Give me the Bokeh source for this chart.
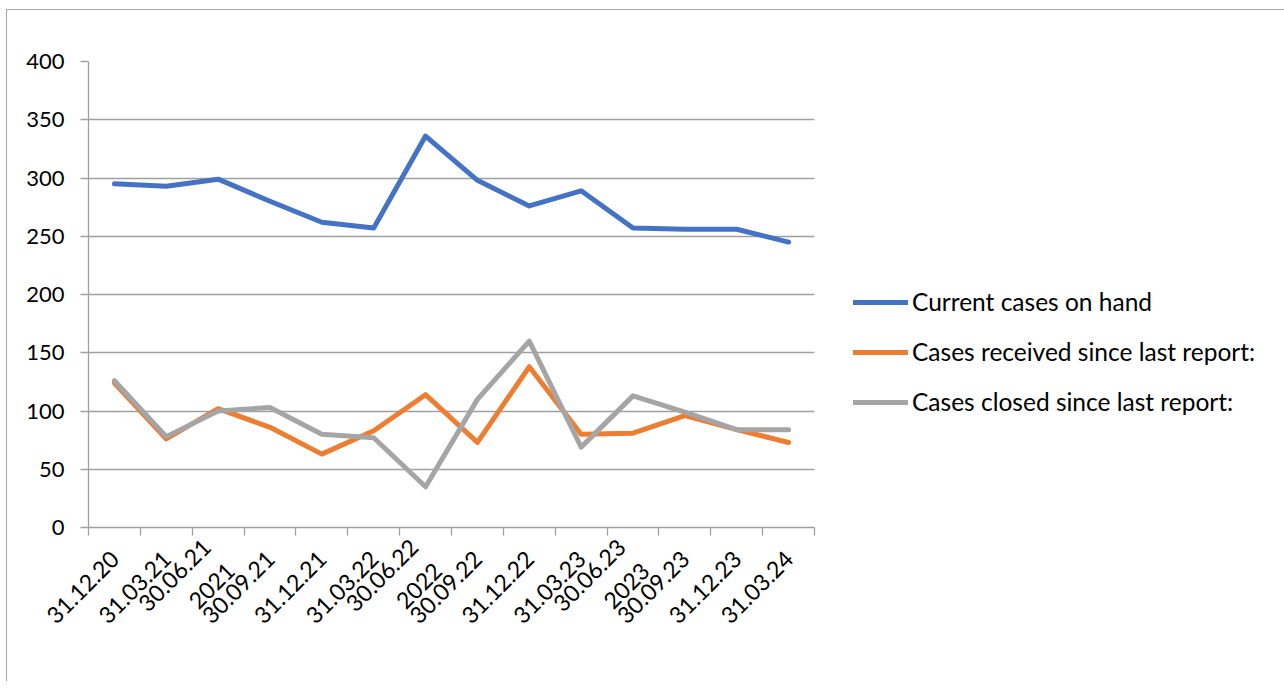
import math
from bokeh.plotting import figure
from bokeh.models import Range1d, FixedTicker, Legend, LegendItem
from bokeh.embed import file_html
from bokeh.resources import INLINE

categories = ["31.12.20", "31.03.21", "30.06.21\n2021", "30.09.21", "31.12.21",
              "31.03.22", "30.06.22\n2022", "30.09.22", "31.12.22", "31.03.23",
              "30.06.23\n2023", "30.09.23", "31.12.23", "31.03.24"]
current_cases = [295, 293, 299, 280, 262, 257, 336, 298, 276, 289, 257, 256, 256, 245]
cases_received = [124, 76, 102, 86, 63, 83, 114, 73, 138, 80, 81, 96, 84, 73]
cases_closed = [126, 78, 100, 103, 80, 77, 35, 110, 160, 69, 113, 99, 84, 84]
series_names = ["Current cases on hand", "Cases received since last report:",
                "Cases closed since last report:"]
y_ticks = [0, 50, 100, 150, 200, 250, 300, 350, 400]

FONT = "Lato"
n = len(categories)
xs = [i + 0.5 for i in range(n)]

p = figure(frame_width=726, frame_height=466, output_backend="svg", toolbar_location=None,
           x_range=Range1d(0, n), y_range=Range1d(0, 400),
           min_border_left=88, min_border_right=96, min_border_top=61,
           min_border_bottom=154)
p.border_fill_color = None
p.background_fill_color = None
p.outline_line_color = None
p.styles = {"box-shadow": "inset 6px 9px 0 0 #ffffff, inset 7px 10px 0 0 #a6a6a6"}

# x axis
xa = p.xaxis[0]
xa.ticker = FixedTicker(ticks=xs, minor_ticks=list(range(n + 1)))
xa.major_label_overrides = {x: c for x, c in zip(xs, categories)}
xa.major_tick_out = 0
xa.major_tick_in = 0
xa.minor_tick_out = 8
xa.minor_tick_in = 0
xa.minor_tick_line_color = "#a0a0a0"
xa.minor_tick_line_width = 1.3
xa.axis_line_color = "#a0a0a0"
xa.axis_line_width = 1.3
xa.major_label_orientation = math.pi / 4
xa.major_label_text_font = FONT
xa.major_label_text_font_size = "23px"
xa.major_label_text_color = "#000000"
xa.major_label_standoff = 19

# y axis
ya = p.yaxis[0]
ya.ticker = FixedTicker(ticks=y_ticks)
ya.major_tick_out = 8
ya.major_tick_in = 0
ya.minor_tick_out = 0
ya.minor_tick_in = 0
ya.major_tick_line_color = "#a0a0a0"
ya.major_tick_line_width = 1.3
ya.axis_line_color = "#a0a0a0"
ya.axis_line_width = 1.3
ya.major_label_text_font = FONT
ya.major_label_text_font_size = "22px"
ya.major_label_text_color = "#000000"
ya.major_label_standoff = 16

p.xgrid.grid_line_color = None
p.ygrid.ticker = FixedTicker(ticks=y_ticks)
p.ygrid.grid_line_color = "#a0a0a0"
p.ygrid.grid_line_width = 1.3

colors = ["#4472C4", "#ED7D31", "#A5A5A5"]
renderers = []
for vals, col in zip([current_cases, cases_received, cases_closed], colors):
    r = p.line(xs, vals, line_color=col, line_width=5,
               line_cap="round", line_join="round")
    renderers.append(r)

legend = Legend(items=[LegendItem(label=nm, renderers=[r]) for nm, r in zip(series_names, renderers)],
                location=(39, 111), orientation="vertical")
legend.padding = 0
legend.margin = 0
legend.border_line_color = None
legend.background_fill_color = None
legend.background_fill_alpha = 0
legend.glyph_width = 55
legend.glyph_height = 20
legend.label_height = 20
legend.spacing = 21
legend.label_standoff = 4
legend.label_text_font = FONT
legend.label_text_font_size = "24.5px"
legend.label_text_color = "#000000"
p.add_layout(legend, "right")

open("out.html", "w").write(file_html(p, INLINE))
